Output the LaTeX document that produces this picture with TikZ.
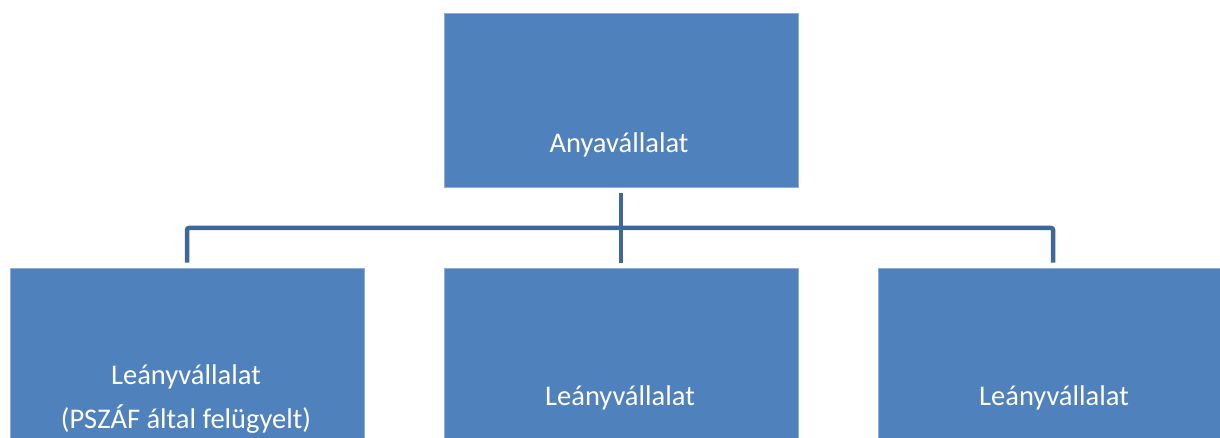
\documentclass[tikz,border=0pt]{standalone}
\usepackage{fontspec}
\setmainfont{Carlito}
\usepackage{tikz}
\definecolor{boxblue}{HTML}{4F81BD}
\definecolor{edgeblue}{HTML}{8DAEDA}
\definecolor{linkblue}{HTML}{3E6897}
\begin{document}
\begin{tikzpicture}[x = 1pt, y = -1pt,
                        unit/.style = {rectangle, draw = edgeblue, line width = 0.8pt, fill = boxblue, minimum width = 354pt, minimum height = 174pt, inner sep = 0pt},
                        caption/.style = {anchor = base, text = white, align = center, inner sep = 0pt, font = \fontsize{28.5}{44}\selectfont},
                        link/.style = {draw = linkblue, line width = 4.5pt, rounded corners = 2pt}]
      \useasboundingbox (0, 0) rectangle (1220, 438);
      \clip (0, 0) rectangle (1220, 438);
      \node [unit] (parent) at (621, 100){};
      \node [unit] (child1) at (187, 355){};
      \node [unit] (child2) at (621, 355){};
      \node [unit] (child3) at (1055, 355){};
      \node [caption] (parentname) at (619, 153){Anyavállalat};
      \node [caption] (child1name) at (186, 428){Leányvállalat\\(PSZÁF által felügyelt)};
      \node [caption] (child2name) at (620, 405){Leányvállalat};
      \node [caption] (child3name) at (1054, 405){Leányvállalat};
      \coordinate (fork) at (621, 228);
      \draw [link] ([yshift = -6pt]parent.south) -- ([yshift = 5pt]child2.north);
      \draw [link] ([yshift = 5pt]child1.north) |- (fork) -| ([xshift = -2pt, yshift = 5pt]child3.north);
    \end{tikzpicture}
\end{document}
